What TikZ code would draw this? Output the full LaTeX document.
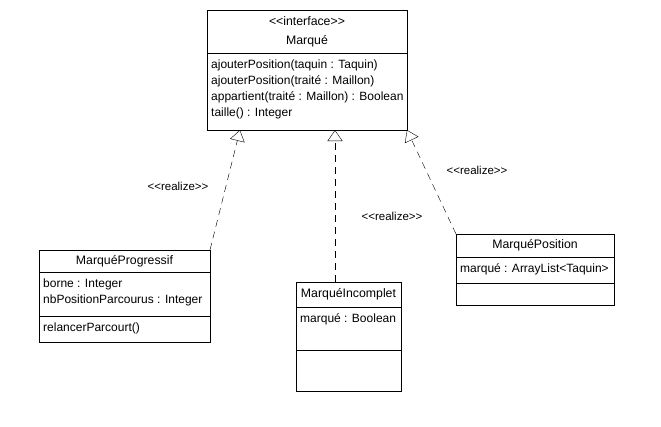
\documentclass[tikz,border=0pt]{standalone}
\usepackage{fontspec}
\setmainfont{Liberation Sans}
\usetikzlibrary{positioning, arrows.meta, backgrounds}

\tikzset{
    classhead/.style={draw, fill=white, anchor=north west, inner sep=0pt, outer sep=0pt, align=center,
        font=\fontsize{12.3}{19}\selectfont},
    compartment/.style={draw, fill=white, inner sep=0pt, outer sep=0pt},
    members/.style={anchor=north west, align=left, inner xsep=4pt, inner ysep=6.5pt,
        font=\fontsize{12}{16}\selectfont},
    umlshadow/.style={fill=black!30},
    realize/.style={dash pattern=on 7pt off 5pt, -{Triangle[open, length=11pt, width=15pt]}},
    stereotype/.style={font=\fontsize{11.5}{14}\selectfont}
}

\begin{document}
\begin{tikzpicture}[x=1pt, y=-1pt]
    \useasboundingbox (0,0) rectangle (661,426);

    % Interface Marque
    \node[classhead, minimum width=200, minimum height=43] (marqueHead) at (207,10)
        {<\kern0pt<interface>\kern0pt>\\Marqué};
    \node[compartment, minimum width=200, minimum height=77, below=0pt of marqueHead] (marqueOps) {};
    \node[members] (marqueOpsText) at (marqueOps.north west)
        {ajouterPosition(taquin : Taquin)\\ajouterPosition(traité : Maillon)\\appartient(traité : Maillon) : Boolean\\taille() : Integer};

    % Classes
    \node[classhead, minimum width=171, minimum height=22] (progHead) at (39,250) {MarquéProgressif};
    \node[compartment, minimum width=171, minimum height=44, below=0pt of progHead] (progAttr) {};
    \node[compartment, minimum width=171, minimum height=26, below=0pt of progAttr] (progOps) {};
    \node[members] (progAttrText) at (progAttr.north west) {borne : Integer\\nbPositionParcourus : Integer};
    \node[members] (progOpsText) at (progOps.north west) {relancerParcourt()};

    \node[classhead, minimum width=105, minimum height=25] (incHead) at (296,282) {MarquéIncomplet};
    \node[compartment, minimum width=105, minimum height=43, below=0pt of incHead] (incAttr) {};
    \node[compartment, minimum width=105, minimum height=41, below=0pt of incAttr] (incOps) {};
    \node[members] (incAttrText) at (incAttr.north west) {marqué : Boolean};

    \node[classhead, minimum width=158, minimum height=23] (posHead) at (456,234) {MarquéPosition};
    \node[compartment, minimum width=158, minimum height=26, below=0pt of posHead] (posAttr) {};
    \node[compartment, minimum width=158, minimum height=22, below=0pt of posAttr] (posOps) {};
    \node[members] (posAttrText) at (posAttr.north west) {marqué : ArrayList<Taquin>};

    % Shadows
    \begin{scope}[on background layer, shift={(1.5,1.5)}]
        \fill[umlshadow] (marqueHead.north west) rectangle (marqueOps.south east);
        \fill[umlshadow] (progHead.north west) rectangle (progOps.south east);
        \fill[umlshadow] (incHead.north west) rectangle (incOps.south east);
        \fill[umlshadow] (posHead.north west) rectangle (posOps.south east);
    \end{scope}

    % Arrow tips on the interface
    \coordinate (tipL) at (240,130);
    \coordinate (tipM) at (335,130);

    % Realizations
    \draw[realize] (progHead.north east) -- (tipL);
    \draw[realize] (incHead.north -| tipM) -- (tipM);
    \draw[realize] (posHead.north west) -- (marqueOps.south east);

    \node[stereotype] (realizeL) at (178,186) {<\kern0pt<realize>\kern0pt>};
    \node[stereotype] (realizeM) at (392,216) {<\kern0pt<realize>\kern0pt>};
    \node[stereotype] (realizeR) at (477,170) {<\kern0pt<realize>\kern0pt>};
\end{tikzpicture}
\end{document}
